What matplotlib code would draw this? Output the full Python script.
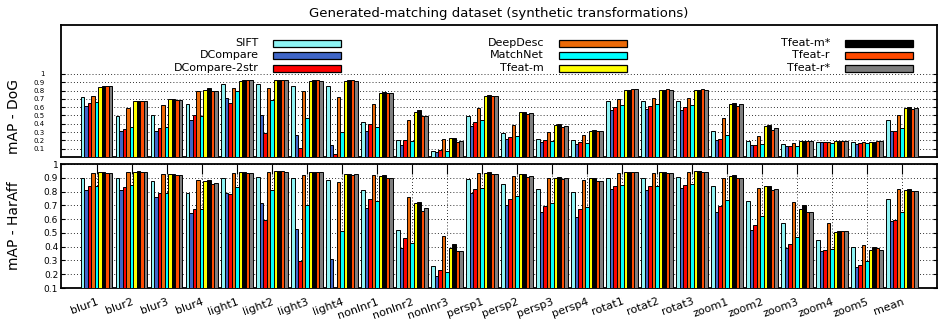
import numpy as np
import matplotlib
matplotlib.use('Agg')
import matplotlib.pyplot as plt
from matplotlib.patches import Rectangle

# datos
grupos = ['blur1', 'blur2', 'blur3', 'blur4', 'light1', 'light2', 'light3', 'light4',
          'nonlnr1', 'nonlnr2', 'nonlnr3', 'persp1', 'persp2', 'persp3', 'persp4',
          'rotat1', 'rotat2', 'rotat3', 'zoom1', 'zoom2', 'zoom3', 'zoom4', 'zoom5', 'mean']
metodos = ['SIFT', 'DCompare', 'DCompare-2str', 'DeepDesc', 'MatchNet',
           'Tfeat-m', 'Tfeat-m*', 'Tfeat-r', 'Tfeat-r*']
colores = ['#8ef4f4', '#4066c8', '#ff0000', '#ec6a08', '#00ffff',
           '#ffff00', '#000000', '#ff4a00', '#7f7f7f']

# mAP - DoG
dog_sift = [0.72, 0.49, 0.50, 0.64, 0.875, 0.875, 0.86, 0.86, 0.42, 0.20, 0.077, 0.49,
            0.285, 0.22, 0.20, 0.68, 0.67, 0.67, 0.31, 0.19, 0.155, 0.18, 0.175, 0.44]
dog_dcompare = [0.61, 0.315, 0.315, 0.45, 0.71, 0.50, 0.27, 0.15, 0.315, 0.145, 0.06, 0.37,
                0.22, 0.18, 0.16, 0.57, 0.58, 0.565, 0.20, 0.14, 0.13, 0.178, 0.162, 0.308]
dog_dcompare2 = [0.645, 0.34, 0.35, 0.50, 0.645, 0.295, 0.113, 0.036, 0.40, 0.20, 0.08, 0.42,
                 0.24, 0.20, 0.185, 0.607, 0.62, 0.603, 0.217, 0.142, 0.134, 0.178, 0.166, 0.308]
dog_deepdesc = [0.74, 0.595, 0.628, 0.80, 0.834, 0.83, 0.794, 0.717, 0.636, 0.445, 0.215, 0.595,
                0.39, 0.296, 0.26, 0.70, 0.709, 0.709, 0.472, 0.247, 0.166, 0.182, 0.182, 0.506]
dog_matchnet = [0.665, 0.364, 0.364, 0.498, 0.797, 0.684, 0.474, 0.296, 0.364, 0.19, 0.077, 0.45,
                0.25, 0.198, 0.17, 0.632, 0.636, 0.623, 0.26, 0.158, 0.134, 0.174, 0.166, 0.352]
dog_tfeat_m = [0.84, 0.676, 0.696, 0.81, 0.915, 0.923, 0.915, 0.915, 0.77, 0.547, 0.227, 0.737,
               0.537, 0.385, 0.316, 0.81, 0.806, 0.806, 0.644, 0.368, 0.198, 0.19, 0.186, 0.591]
dog_tfeat_m_s = [0.855, 0.68, 0.70, 0.826, 0.927, 0.925, 0.923, 0.923, 0.777, 0.563, 0.227, 0.745,
                 0.545, 0.393, 0.32, 0.81, 0.81, 0.81, 0.652, 0.389, 0.194, 0.194, 0.186, 0.60]
dog_tfeat_r = [0.855, 0.676, 0.684, 0.797, 0.927, 0.927, 0.923, 0.923, 0.765, 0.498, 0.186, 0.737,
               0.52, 0.364, 0.308, 0.818, 0.814, 0.814, 0.611, 0.328, 0.19, 0.19, 0.19, 0.583]
dog_tfeat_r_s = [0.855, 0.672, 0.684, 0.797, 0.923, 0.925, 0.919, 0.919, 0.765, 0.498, 0.198, 0.733,
                 0.53, 0.372, 0.308, 0.814, 0.806, 0.81, 0.636, 0.348, 0.19, 0.194, 0.19, 0.587]

# mAP - HarAff
har_sift = [0.897, 0.902, 0.873, 0.787, 0.897, 0.909, 0.897, 0.885, 0.809, 0.523, 0.261, 0.89,
            0.853, 0.816, 0.797, 0.897, 0.897, 0.907, 0.843, 0.733, 0.572, 0.445, 0.396, 0.745]
har_dcompare = [0.811, 0.809, 0.758, 0.643, 0.792, 0.719, 0.528, 0.31, 0.682, 0.389, 0.188, 0.787,
                0.704, 0.648, 0.616, 0.819, 0.814, 0.824, 0.653, 0.521, 0.389, 0.367, 0.249, 0.589]
har_dcompare2 = [0.841, 0.836, 0.79, 0.677, 0.785, 0.591, 0.298, 0.09, 0.745, 0.462, 0.234, 0.821,
                 0.748, 0.694, 0.675, 0.842, 0.843, 0.848, 0.694, 0.56, 0.42, 0.374, 0.264, 0.596]
har_deepdesc = [0.934, 0.941, 0.924, 0.885, 0.934, 0.939, 0.921, 0.87, 0.917, 0.76, 0.477, 0.934,
                0.912, 0.895, 0.882, 0.936, 0.936, 0.941, 0.902, 0.826, 0.721, 0.569, 0.413, 0.821]
har_matchnet = [0.841, 0.846, 0.792, 0.675, 0.831, 0.809, 0.701, 0.513, 0.728, 0.428, 0.217, 0.829,
                0.77, 0.716, 0.687, 0.846, 0.841, 0.858, 0.738, 0.623, 0.467, 0.381, 0.296, 0.648]
har_tfeat_m = [0.941, 0.944, 0.929, 0.88, 0.941, 0.948, 0.944, 0.929, 0.912, 0.714, 0.391, 0.936,
               0.924, 0.902, 0.895, 0.939, 0.941, 0.946, 0.914, 0.843, 0.675, 0.503, 0.376, 0.814]
har_tfeat_m_s = [0.944, 0.946, 0.931, 0.885, 0.944, 0.951, 0.944, 0.931, 0.917, 0.721, 0.418, 0.944,
                 0.924, 0.907, 0.897, 0.944, 0.944, 0.948, 0.917, 0.843, 0.701, 0.511, 0.398, 0.821]
har_tfeat_r = [0.934, 0.939, 0.921, 0.858, 0.934, 0.946, 0.941, 0.921, 0.897, 0.662, 0.369, 0.931,
               0.909, 0.89, 0.875, 0.939, 0.934, 0.941, 0.90, 0.811, 0.65, 0.511, 0.389, 0.802]
har_tfeat_r_s = [0.934, 0.939, 0.919, 0.863, 0.936, 0.944, 0.944, 0.924, 0.895, 0.679, 0.369, 0.931,
                 0.914, 0.895, 0.875, 0.939, 0.936, 0.941, 0.90, 0.821, 0.653, 0.511, 0.376, 0.804]

datos_dog = [dog_sift, dog_dcompare, dog_dcompare2, dog_deepdesc, dog_matchnet,
             dog_tfeat_m, dog_tfeat_m_s, dog_tfeat_r, dog_tfeat_r_s]
datos_har = [har_sift, har_dcompare, har_dcompare2, har_deepdesc, har_matchnet,
             har_tfeat_m, har_tfeat_m_s, har_tfeat_r, har_tfeat_r_s]

yticks = [0.1, 0.2, 0.3, 0.4, 0.5, 0.6, 0.7, 0.8, 0.9, 1.0]
ytick_labels = ['0.1', '0.2', '0.3', '0.4', '0.5', '0.6', '0.7', '0.8', '0.9', '1']

W, H = 944, 322
fig = plt.figure(figsize=(W / 100, H / 100), dpi=100)


def caja(x0, y0, x1, y1):
    # pixeles (desde arriba) -> fracciones de figura
    return [x0 / W, 1 - y1 / H, (x1 - x0) / W, (y1 - y0) / H]


ax1 = fig.add_axes(caja(61, 25, 937, 157))
ax2 = fig.add_axes(caja(61, 164, 937, 288))

x = np.arange(len(grupos))
ancho = 0.1
grid_kw = dict(color='black', linewidth=0.7, linestyle=(0, (0.8, 2.4)))

for ax, datos in [(ax1, datos_dog), (ax2, datos_har)]:
    for j, serie in enumerate(datos):
        ax.bar(x + (j - 4) * ancho, serie, ancho, color=colores[j],
               edgecolor='black', linewidth=0.7, zorder=3)
    ax.set_xlim(-1.02, 24.0)
    ax.set_yticks(yticks)
    ax.set_yticklabels(ytick_labels)
    ax.yaxis.grid(True, **grid_kw)
    ax.set_axisbelow(True)
    for s in ax.spines.values():
        s.set_linewidth(1.3)
    ax.tick_params(axis='y', direction='in', length=3, width=0.8, left=True, right=True)

# panel superior
ax1.set_ylim(0, 1.59)
ax1.set_xticks([])
ax1.tick_params(axis='y', labelsize=5, pad=12)

# panel inferior
ax2.set_ylim(0.1, 1.0)
ax2.set_xticks(x)
ax2.set_xticklabels(grupos, rotation=20, ha='right', rotation_mode='anchor', fontsize=8)
ax2.tick_params(axis='x', direction='in', length=7, width=0.8, top=True, bottom=True, pad=6)
ax2.tick_params(axis='y', labelsize=6.5, pad=2)
ax2.xaxis.grid(True, **grid_kw)

# leyenda a mano (texto alineado a la derecha, muestra a la derecha)
col_texto = [259, 544, 830]
col_caja = [273, 559, 845]
filas = [43, 55.5, 68]
for k, nombre in enumerate(metodos):
    c, f = k // 3, k % 3
    fig.text(col_texto[c] / W, 1 - filas[f] / H, nombre, ha='right', va='center', fontsize=8)
    fig.patches.append(Rectangle((col_caja[c] / W, 1 - (filas[f] + 3.5) / H), 68 / W, 7 / H,
                                 transform=fig.transFigure, facecolor=colores[k],
                                 edgecolor='black', linewidth=0.9))

fig.text(499 / W, 1 - 13 / H, 'Generated-matching dataset (synthetic transformations)',
         ha='center', va='center', fontsize=9.5)
fig.text(14 / W, 1 - 116 / H, 'mAP - DoG', rotation=90, ha='center', va='center', fontsize=10)
fig.text(14 / W, 1 - 226 / H, 'mAP - HarAff', rotation=90, ha='center', va='center', fontsize=10)

fig.savefig('out.png', dpi=100)
